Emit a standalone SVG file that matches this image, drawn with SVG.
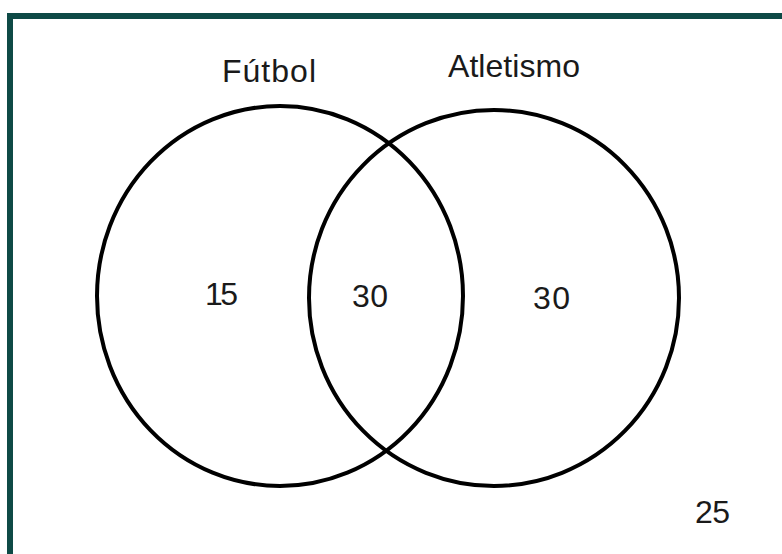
<svg xmlns="http://www.w3.org/2000/svg" width="782" height="554" viewBox="0 0 782 554">
<style>
.t{font-family:"Liberation Sans","DejaVu Sans",sans-serif;font-size:32px;fill:#1a1a1a}
.c{fill:none;stroke:#000;stroke-width:4}
</style>
<rect x="0" y="0" width="782" height="554" fill="#fff"/>
<rect id="frame" x="10" y="16" width="800" height="600" fill="none" stroke="#0e4a46" stroke-width="6"/>
<g id="futbol">
<ellipse class="c" cx="280" cy="296" rx="183" ry="190"/>
<text class="t" x="222" y="82" textLength="94">Fútbol</text>
<text class="t" x="205" y="305" textLength="33">15</text>
</g>
<g id="atletismo">
<ellipse class="c" cx="494" cy="298" rx="185" ry="188"/>
<text class="t" x="448" y="77" textLength="132">Atletismo</text>
<text class="t" x="533" y="309" textLength="37">30</text>
</g>
<g id="interseccion">
<text class="t" x="352" y="307" textLength="36">30</text>
</g>
<g id="universo">
<text class="t" x="695" y="523" textLength="35">25</text>
</g>
<g id="connectors"></g>
</svg>
